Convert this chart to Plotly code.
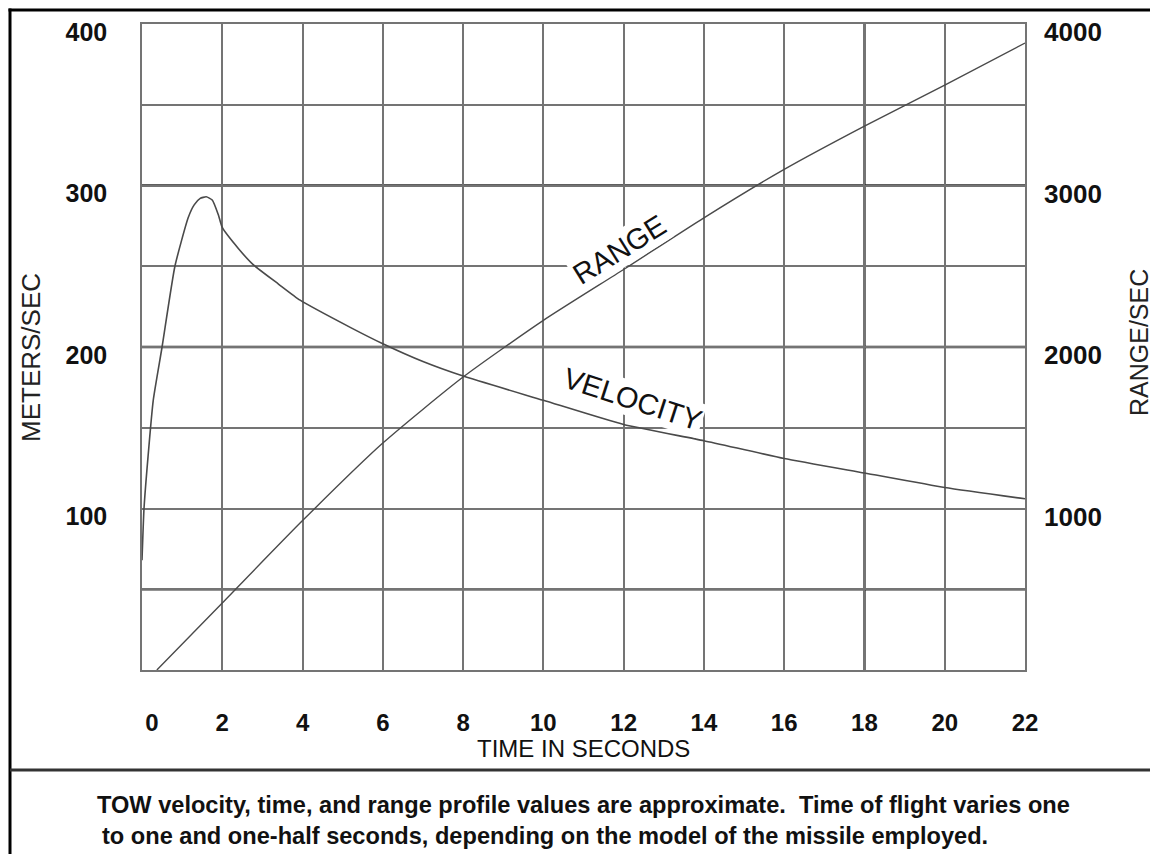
import plotly.graph_objects as go

# ---- data ----
vel_time = [0, 0.05, 0.15, 0.28, 0.5, 0.82, 1.15, 1.3, 1.45, 1.6, 1.75, 1.9, 2.0, 2.4, 2.77, 3.4, 3.94, 5.2, 6, 7, 8, 10, 12, 14, 16, 18, 20, 22]
velocity = [68, 100, 132, 167, 200, 250, 280, 288, 292, 293, 291, 282, 274, 261, 251, 239, 229, 212, 202, 191, 182, 167, 152, 142, 131, 122, 113, 106]

rng_time = [0.37, 2, 4, 6, 8, 10, 12, 14, 16, 18, 20, 22]
rng = [0, 415, 925, 1405, 1814, 2165, 2480, 2800, 3100, 3368, 3622, 3882]

x_ticks = [0, 2, 4, 6, 8, 10, 12, 14, 16, 18, 20, 22]
x_labels = ["\u00a0\u00a0\u00a00", "2", "4", "6", "8", "10", "12", "14", "16", "18", "20", "22"]
y_ticks = [0, 50, 100, 150, 200, 250, 300, 350, 400]
y_labels = ["", "", "100", "", "200", "", "300", "", "400"]
y2_ticks = [0, 500, 1000, 1500, 2000, 2500, 3000, 3500, 4000]
y2_labels = ["", "", "1000", "", "2000", "", "3000", "", "4000"]
dark_h = [50, 200, 300]
dark_v = [18]

caption1 = "TOW velocity, time, and range profile values are approximate.  Time of flight varies one"
caption2 = "to one and one-half seconds, depending on the model of the missile employed."

# page is offset by the browser's default 8px body margin
OFF = 8
W, H = 1158, 854
L, R, T, B = 142, 1025, 24, 670

def px(x):
    return (x - L) / (R - L)

def py(y):
    return (B - y) / (B - T)

GRID = "#747474"
LINE = "#4a4a4a"
FONT = "Liberation Sans, Arial, sans-serif"

fig = go.Figure()
fig.add_trace(go.Scatter(x=vel_time, y=velocity, mode="lines",
                         line=dict(color=LINE, width=1.6, shape="spline", smoothing=0.5),
                         showlegend=False, hoverinfo="skip"))
fig.add_trace(go.Scatter(x=rng_time, y=rng, mode="lines", yaxis="y2",
                         line=dict(color=LINE, width=1.4, shape="spline", smoothing=0.6),
                         showlegend=False, hoverinfo="skip"))

shapes = []
for v in dark_h:
    shapes.append(dict(type="line", xref="paper", yref="y", x0=0, x1=1, y0=v, y1=v,
                       line=dict(color="#2a2a2a", width=2.4), layer="below"))
for v in dark_v:
    shapes.append(dict(type="line", xref="x", yref="paper", x0=v, x1=v, y0=0, y1=1,
                       line=dict(color="#2a2a2a", width=2.4), layer="below"))
# outer frame and separator (kept just inside the figure's own area)
shapes.append(dict(type="line", xref="paper", yref="paper", x0=px(10), x1=px(10), y0=py(8.5), y1=py(870),
                   line=dict(color="black", width=3)))
shapes.append(dict(type="line", xref="paper", yref="paper", x0=px(8.5), x1=px(1170), y0=py(10), y1=py(10),
                   line=dict(color="black", width=3)))
shapes.append(dict(type="line", xref="paper", yref="paper", x0=px(10), x1=px(1170), y0=py(770), y1=py(770),
                   line=dict(color="#333333", width=3)))

def ann(text, x, y, size, angle=0, xanchor="center", bg=None, color="#111", weight="normal"):
    d = dict(text=text, x=px(x), y=py(y), xref="paper", yref="paper", showarrow=False,
             textangle=angle, xanchor=xanchor, yanchor="middle",
             font=dict(family=FONT, size=size, color=color, weight=weight))
    if bg:
        d["bgcolor"] = bg
    return d

annotations = [
    ann("RANGE", 619, 250, 29, angle=-32, bg="white"),
    ann("VELOCITY", 632, 399, 29, angle=18, bg="white"),
    ann("METERS/SEC", 31, 358, 26, angle=-90, color="#222"),
    ann("RANGE/SEC", 1139, 343, 25, angle=-90, color="#222"),
    ann("TIME IN SECONDS", 583, 748, 24),
    ann(caption1, 95, 805, 23.6, xanchor="left", weight="bold"),
    ann(caption2, 100, 836, 23.6, xanchor="left", weight="bold"),
]

fig.update_layout(
    width=W - OFF, height=H - OFF,
    margin=dict(l=L - OFF, r=W - R, t=T - OFF, b=H - B, pad=0, autoexpand=False),
    paper_bgcolor="white", plot_bgcolor="white",
    font=dict(family=FONT, color="#111"),
    xaxis=dict(range=[0, 22], tickvals=x_ticks, ticktext=x_labels, showgrid=True,
               gridcolor=GRID, gridwidth=1.5, zeroline=False, showline=True, linecolor=GRID,
               linewidth=1.5, mirror=True, ticks="", ticklabelstandoff=30, automargin=False,
               tickfont=dict(family=FONT, size=24, color="#111", weight="bold")),
    yaxis=dict(range=[0, 400], tickvals=y_ticks, ticktext=y_labels, showgrid=True,
               gridcolor=GRID, gridwidth=1.5, zeroline=False, showline=True, linecolor=GRID,
               linewidth=1.5, mirror=True, ticks="", ticklabelstandoff=28, ticklabelshift=8,
               automargin=False,
               tickfont=dict(family=FONT, size=25, color="#111", weight="bold")),
    yaxis2=dict(range=[0, 4000], tickvals=y2_ticks, ticktext=y2_labels, overlaying="y",
                side="right", showgrid=False, zeroline=False, showline=False, ticks="",
                ticklabelstandoff=18, ticklabelshift=8, automargin=False,
                tickfont=dict(family=FONT, size=26, color="#111", weight="bold")),
    shapes=shapes,
    annotations=annotations,
)

fig.write_html("out.html")
